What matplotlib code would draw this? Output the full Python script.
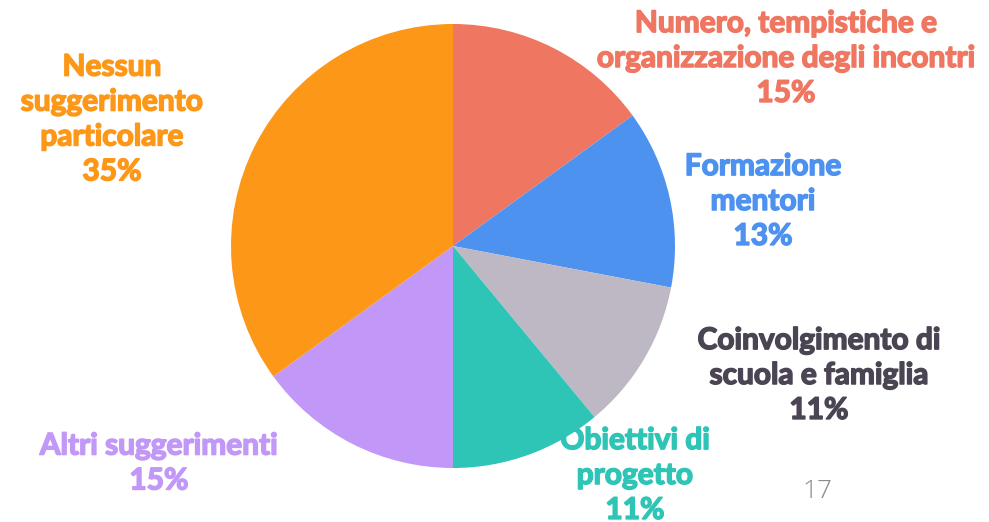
import matplotlib.pyplot as plt
import matplotlib.patheffects as pe

# Slice data, clockwise from the top
labels = ["Numero, tempistiche e\norganizzazione degli incontri",
          "Formazione\nmentori",
          "Coinvolgimento di\nscuola e famiglia",
          "Obiettivi di\nprogetto",
          "Altri suggerimenti",
          "Nessun\nsuggerimento\nparticolare"]
shares = [15, 13, 11, 11, 15, 35]
slice_colors = ['#EF7762', '#4E92F0', '#BEB8C5', '#2EC4B6', '#C197F7', '#FD9717']
text_colors = ['#EF7762', '#4E92F0', '#4B4453', '#2EC4B6', '#C197F7', '#FD9717']
# label block centres in pixel coords (x, y from top)
label_pos = [(786, 58), (763, 201), (819, 375), (635, 475), (159, 463), (112, 119)]

W, H = 989, 522
fig = plt.figure(figsize=(W / 100, H / 100), dpi=100)
ax = fig.add_axes([0, 0, 1, 1])

ax.pie(shares, colors=slice_colors, startangle=90, counterclock=False,
       center=(453, H - 246), radius=222, frame=True,
       wedgeprops={'linewidth': 0})
ax.set_xlim(0, W)
ax.set_ylim(0, H)
ax.axis('off')

for lab, val, col, (x, y) in zip(labels, shares, text_colors, label_pos):
    ax.text(x, H - y, "%s\n%d%%" % (lab, val), color=col, ha='center', va='center',
            fontsize=21.5, fontweight='bold', family='Lato', linespacing=1.3,
            path_effects=[pe.withStroke(linewidth=1.1, foreground=col)])

ax.text(817, H - 492, "17", color='#8a8a8a', ha='center', va='center',
        fontsize=19, family='Open Sans', fontweight='light')

fig.savefig('out.png', dpi=100)
